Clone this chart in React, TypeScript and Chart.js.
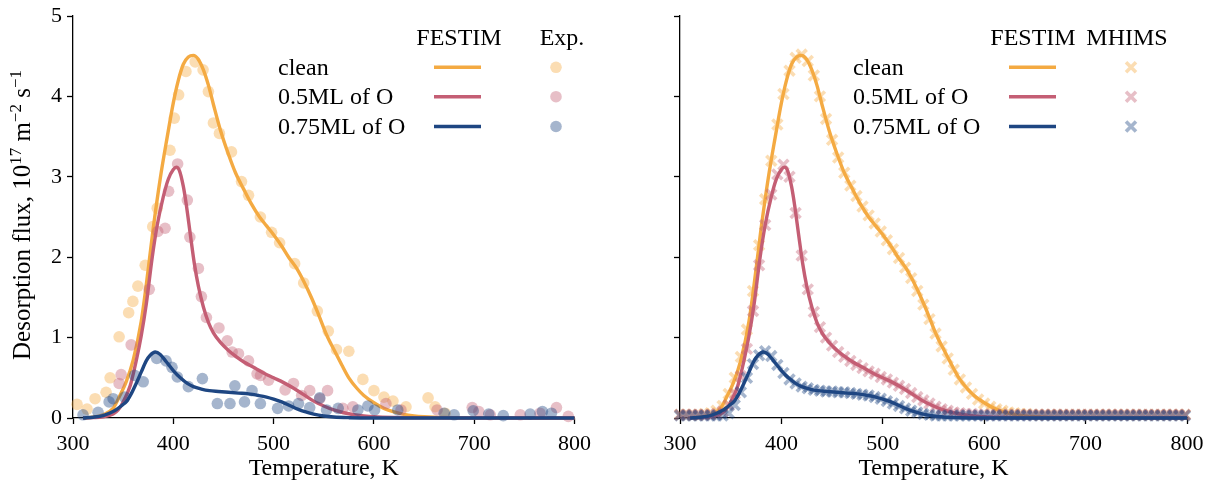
import React, { useEffect, useRef } from 'react';
import { Chart, registerables } from 'chart.js';

Chart.register(...registerables);

const SERIF = '"Liberation Serif", "Times New Roman", serif';

// ---------------- data ----------------
const caseLabels = ['clean', '0.5ML of O', '0.75ML of O'];
const xAxisLabel = 'Temperature, K';
const xTickValues = [300, 400, 500, 600, 700, 800];
const yTickValues = [0, 1, 2, 3, 4, 5];

// FESTIM simulation curves
const festimCleanT = [310, 320, 330, 340, 346, 353, 360, 368, 375, 380, 387, 394, 400, 405, 410, 415, 420, 425, 430, 435, 440, 447, 455, 462, 470, 478, 486, 493, 500, 508, 515, 523, 530, 538, 545, 553, 561, 568, 575, 583, 590, 600, 610, 620, 630, 640, 650, 660, 680, 700, 750, 800];
const festimCleanV = [0.0, 0.01, 0.04, 0.12, 0.26, 0.45, 0.72, 1.2, 1.85, 2.36, 2.98, 3.5, 3.92, 4.2, 4.4, 4.49, 4.51, 4.46, 4.33, 4.14, 3.9, 3.58, 3.28, 3.05, 2.85, 2.66, 2.5, 2.39, 2.28, 2.14, 2.0, 1.86, 1.7, 1.49, 1.28, 1.03, 0.83, 0.66, 0.5, 0.37, 0.28, 0.19, 0.12, 0.075, 0.045, 0.027, 0.016, 0.009, 0.003, 0.001, 0, 0];

const festimHalfT = [310, 320, 330, 340, 345, 350, 357, 363, 368, 373, 379, 384, 390, 395, 400, 403, 406, 410, 413, 417, 421, 425, 430, 435, 440, 447, 455, 462, 470, 480, 490, 500, 510, 520, 530, 540, 550, 560, 570, 580, 590, 600, 620, 650, 700, 800];
const festimHalfV = [0, 0.005, 0.015, 0.05, 0.1, 0.2, 0.4, 0.71, 1.02, 1.41, 2.0, 2.4, 2.75, 2.97, 3.09, 3.12, 3.08, 2.88, 2.65, 2.28, 1.92, 1.64, 1.38, 1.19, 1.06, 0.94, 0.84, 0.77, 0.7, 0.63, 0.56, 0.5, 0.44, 0.37, 0.29, 0.21, 0.15, 0.1, 0.065, 0.04, 0.025, 0.015, 0.006, 0.001, 0, 0];

const festimThreeQT = [310, 320, 330, 340, 345, 350, 353, 358, 363, 368, 373, 377, 382, 387, 393, 400, 407, 414, 420, 428, 436, 445, 455, 465, 475, 485, 493, 500, 508, 516, 524, 532, 540, 550, 560, 575, 600, 800];
const festimThreeQV = [0, 0.01, 0.03, 0.08, 0.12, 0.17, 0.2, 0.3, 0.43, 0.57, 0.71, 0.78, 0.82, 0.79, 0.7, 0.59, 0.5, 0.43, 0.39, 0.36, 0.34, 0.33, 0.32, 0.31, 0.3, 0.28, 0.26, 0.235, 0.2, 0.155, 0.11, 0.075, 0.048, 0.025, 0.012, 0.004, 0, 0];

// Experimental points
const expCleanT = [304, 314, 322, 333, 337, 346, 355.5, 359.7, 364.7, 372, 379.5, 384, 396.7, 401, 405.3, 412.6, 421.8, 429.7, 435, 440, 446, 458, 468, 475, 486.8, 498, 506, 521, 530, 543.6, 554.5, 562.7, 575, 589, 600, 610, 619, 632, 654, 661, 671];
const expCleanV = [0.17, 0.11, 0.24, 0.32, 0.5, 1.01, 1.31, 1.45, 1.64, 1.9, 2.38, 2.61, 3.33, 3.73, 4.02, 4.31, 4.43, 4.33, 4.06, 3.67, 3.54, 3.31, 2.94, 2.77, 2.5, 2.31, 2.18, 1.92, 1.68, 1.33, 1.08, 0.85, 0.83, 0.48, 0.34, 0.26, 0.21, 0.14, 0.25, 0.14, 0.06];

const expHalfT = [346, 348, 358, 376, 384.5, 391.8, 395.3, 404.3, 414, 416.5, 425, 428, 433, 445.5, 453.8, 458.7, 465, 475, 483.5, 487, 495, 511.5, 519.8, 528, 536, 546, 553.8, 569, 579, 612, 627, 663, 698, 704.6, 716, 746, 765.6, 782, 793.8];
const expHalfV = [0.43, 0.54, 0.91, 1.6, 2.32, 2.36, 2.82, 3.16, 2.71, 2.25, 1.86, 1.51, 1.25, 1.12, 0.96, 0.82, 0.8, 0.71, 0.55, 0.53, 0.47, 0.35, 0.43, 0.28, 0.34, 0.24, 0.34, 0.12, 0.14, 0.18, 0.1, 0.1, 0.13, 0.08, 0.04, 0.04, 0.06, 0.13, 0.02];

const expThreeQT = [310, 325, 336, 340, 351.5, 361.4, 370, 383.5, 392.8, 398.7, 404, 415, 429, 443.9, 456.5, 461.4, 471, 478.5, 486.8, 504, 515, 524.8, 536, 546, 552.8, 564.4, 584, 594, 600.7, 623.8, 670, 680, 699, 714.5, 729, 755.8, 768, 777];
const expThreeQV = [0.04, 0.07, 0.2, 0.24, 0.26, 0.53, 0.45, 0.74, 0.71, 0.63, 0.51, 0.39, 0.49, 0.18, 0.18, 0.4, 0.2, 0.34, 0.18, 0.12, 0.15, 0.18, 0.13, 0.25, 0.1, 0.12, 0.1, 0.15, 0.1, 0.1, 0.06, 0.04, 0.09, 0.05, 0.03, 0.05, 0.08, 0.06];

// MHIMS simulation points
const mhimsT = [300, 306, 312, 318, 324, 330, 336, 342, 348, 354, 360, 366, 372, 378, 384, 390, 396, 402, 408, 414, 420, 426, 432, 438, 444, 450, 456, 462, 468, 474, 480, 486, 492, 498, 504, 510, 516, 522, 528, 534, 540, 546, 552, 558, 564, 570, 576, 582, 588, 594, 600, 606, 612, 618, 624, 630, 636, 642, 648, 654, 660, 666, 672, 678, 684, 690, 696, 702, 708, 714, 720, 726, 732, 738, 744, 750, 756, 762, 768, 774, 780, 786, 792, 798];
const mhimsCleanV = [0.04, 0.04, 0.04, 0.04, 0.05, 0.06, 0.09, 0.15, 0.3, 0.5,
  0.76, 1.1, 1.58, 2.15, 2.72, 3.2, 3.65, 4.03, 4.32, 4.48,
  4.52, 4.44, 4.26, 4.0, 3.72, 3.46, 3.24, 3.05, 2.89, 2.76,
  2.63, 2.52, 2.42, 2.32, 2.21, 2.1, 1.99, 1.87, 1.74, 1.58,
  1.41, 1.23, 1.05, 0.89, 0.74, 0.6, 0.48, 0.38, 0.3, 0.23,
  0.18, 0.14, 0.11, 0.09, 0.07, 0.06, 0.05, 0.05, 0.04, 0.04,
  0.04, 0.04, 0.04, 0.04, 0.04, 0.04, 0.04, 0.04, 0.04, 0.04,
  0.04, 0.04, 0.04, 0.04, 0.04, 0.04, 0.04, 0.04, 0.04, 0.04,
  0.04, 0.04, 0.04, 0.04];
const mhimsHalfV = [0.04, 0.04, 0.04, 0.04, 0.04, 0.04, 0.05, 0.08, 0.16, 0.3,
  0.52, 0.86, 1.33, 1.9, 2.4, 2.78, 3.03, 3.15, 3.0, 2.55,
  2.02, 1.6, 1.32, 1.13, 1.0, 0.9, 0.82, 0.76, 0.71, 0.66,
  0.62, 0.58, 0.55, 0.51, 0.48, 0.44, 0.4, 0.36, 0.31, 0.26,
  0.22, 0.18, 0.14, 0.11, 0.09, 0.07, 0.06, 0.05, 0.05, 0.04,
  0.04, 0.04, 0.04, 0.04, 0.04, 0.04, 0.04, 0.04, 0.04, 0.04,
  0.04, 0.04, 0.04, 0.04, 0.04, 0.04, 0.04, 0.04, 0.04, 0.04,
  0.04, 0.04, 0.04, 0.04, 0.04, 0.04, 0.04, 0.04, 0.04, 0.04,
  0.04, 0.04, 0.04, 0.04];
const mhimsThreeQV = [0.03, 0.03, 0.03, 0.03, 0.03, 0.03, 0.03, 0.03, 0.06, 0.16,
  0.32, 0.5, 0.67, 0.78, 0.83, 0.77, 0.66, 0.56, 0.48, 0.43,
  0.39, 0.37, 0.35, 0.34, 0.33, 0.33, 0.32, 0.32, 0.31, 0.3,
  0.29, 0.28, 0.26, 0.24, 0.21, 0.18, 0.15, 0.12, 0.09, 0.07,
  0.05, 0.04, 0.03, 0.03, 0.03, 0.03, 0.03, 0.03, 0.03, 0.03,
  0.03, 0.03, 0.03, 0.03, 0.03, 0.03, 0.03, 0.03, 0.03, 0.03,
  0.03, 0.03, 0.03, 0.03, 0.03, 0.03, 0.03, 0.03, 0.03, 0.03,
  0.03, 0.03, 0.03, 0.03, 0.03, 0.03, 0.03, 0.03, 0.03, 0.03,
  0.03, 0.03, 0.03, 0.03];

// ---------------- styles ----------------
const lineColors = ['rgb(244,170,66)', 'rgb(196,94,116)', 'rgb(30,70,130)'];
const markerColors = ['rgba(244,170,66,0.4)', 'rgba(196,94,116,0.4)', 'rgba(30,70,130,0.4)'];

const festimT = [festimCleanT, festimHalfT, festimThreeQT];
const festimV = [festimCleanV, festimHalfV, festimThreeQV];
const expT = [expCleanT, expHalfT, expThreeQT];
const expV = [expCleanV, expHalfV, expThreeQV];
const mhimsV = [mhimsCleanV, mhimsHalfV, mhimsThreeQV];

const pts = (xs: number[], ys: number[]) => xs.map((x, i) => ({ x, y: ys[i] }));

function legendPlugin(cfg: any) {
  return {
    id: 'tableLegend',
    afterDatasetsDraw(chart: any) {
      const ctx = chart.ctx;
      ctx.save();
      ctx.font = `24px ${SERIF}`;
      ctx.fillStyle = '#000';
      ctx.textBaseline = 'middle';
      ctx.textAlign = 'center';
      ctx.fillText(cfg.head1, cfg.head1X, cfg.headY);
      ctx.fillText(cfg.head2, cfg.head2X, cfg.headY);
      ctx.textAlign = 'left';
      caseLabels.forEach((lab, i) => {
        const ty = cfg.textY[i];
        const my = cfg.markY[i];
        ctx.fillStyle = '#000';
        ctx.fillText(lab, cfg.labelX, ty);
        ctx.strokeStyle = lineColors[i];
        ctx.lineWidth = 3.4;
        ctx.lineCap = 'butt';
        ctx.beginPath();
        ctx.moveTo(cfg.lineX0, my);
        ctx.lineTo(cfg.lineX1, my);
        ctx.stroke();
        if (cfg.marker === 'circle') {
          ctx.fillStyle = markerColors[i];
          ctx.beginPath();
          ctx.arc(cfg.markX, my, 5.8, 0, Math.PI * 2);
          ctx.fill();
        } else {
          const d = 5;
          ctx.strokeStyle = markerColors[i];
          ctx.lineWidth = 3.6;
          ctx.beginPath();
          ctx.moveTo(cfg.markX - d, my - d);
          ctx.lineTo(cfg.markX + d, my + d);
          ctx.moveTo(cfg.markX - d, my + d);
          ctx.lineTo(cfg.markX + d, my - d);
          ctx.stroke();
        }
      });
      ctx.restore();
    },
  };
}

const yTitlePlugin = {
  id: 'yTitle',
  afterDraw(chart: any) {
    const ctx = chart.ctx;
    const segs: [string, boolean][] = [
      ['Desorption flux, 10', false],
      ['17', true],
      [' m', false],
      ['\u22122', true],
      [' s', false],
      ['\u22121', true],
    ];
    const mainFont = `25px ${SERIF}`;
    const supFont = `17px ${SERIF}`;
    let total = 0;
    const widths = segs.map(([t, sup]) => {
      ctx.font = sup ? supFont : mainFont;
      const w = ctx.measureText(t).width;
      total += w;
      return w;
    });
    ctx.save();
    ctx.translate(30, 215);
    ctx.rotate(-Math.PI / 2);
    ctx.fillStyle = '#000';
    ctx.textBaseline = 'alphabetic';
    ctx.textAlign = 'left';
    let x = -total / 2;
    segs.forEach(([t, sup], i) => {
      ctx.font = sup ? supFont : mainFont;
      ctx.fillText(t, x, sup ? -9 : 0);
      x += widths[i];
    });
    ctx.restore();
  },
};

function makeConfig(kind: 'exp' | 'mhims') {
  const datasets: any[] = [];
  for (let i = 0; i < 3; i++) {
    if (kind === 'exp') {
      datasets.push({
        data: pts(expT[i], expV[i]),
        showLine: false,
        pointStyle: 'circle',
        pointRadius: 5.8,
        pointBorderWidth: 0,
        pointBackgroundColor: markerColors[i],
        pointBorderColor: markerColors[i],
        clip: false,
        order: 10 - 2 * i,
      });
    } else {
      datasets.push({
        data: pts(mhimsT, mhimsV[i]),
        showLine: false,
        pointStyle: 'crossRot',
        pointRadius: 7,
        pointBorderWidth: 3.6,
        pointBackgroundColor: markerColors[i],
        pointBorderColor: markerColors[i],
        clip: false,
        order: 10 - 2 * i,
      });
    }
    datasets.push({
      data: pts(festimT[i], festimV[i]),
      showLine: true,
      pointRadius: 0,
      borderColor: lineColors[i],
      borderWidth: 3.4,
      cubicInterpolationMode: 'monotone',
      fill: false,
      clip: false,
      order: 9 - 2 * i,
    });
  }

  const isLeft = kind === 'exp';
  const legendCfg = isLeft
    ? {
        head1: 'FESTIM', head2: 'Exp.', head1X: 459, head2X: 562, headY: 38.5,
        labelX: 278, textY: [69, 98, 127.5], markY: [67.3, 96.7, 126.5],
        lineX0: 434, lineX1: 481, markX: 556, marker: 'circle',
      }
    : {
        head1: 'FESTIM', head2: 'MHIMS', head1X: 433, head2X: 527, headY: 38.5,
        labelX: 253, textY: [69, 98, 127.5], markY: [67.3, 96.7, 126.5],
        lineX0: 409, lineX1: 456, markX: 531, marker: 'cross',
      };

  return {
    type: 'scatter',
    data: { datasets },
    options: {
      responsive: false,
      animation: false,
      events: [],
      layout: { padding: { left: 0, right: isLeft ? 22 : 28, top: 12, bottom: 0 } },
      plugins: { legend: { display: false }, tooltip: { enabled: false } },
      scales: {
        x: {
          type: 'linear',
          min: 300,
          max: 800,
          afterBuildTicks: (s: any) => {
            s.ticks = xTickValues.map((v) => ({ value: v }));
          },
          grid: { display: true, drawOnChartArea: false, drawTicks: true, tickLength: 6, tickWidth: 1.3, tickColor: '#000' },
          border: { display: true, color: '#000', width: 1.3 },
          ticks: {
            color: '#000',
            font: { family: SERIF, size: 22, lineHeight: 1 },
            padding: 9,
            maxRotation: 0,
            autoSkip: false,
            callback: (v: any) => String(v),
          },
          title: {
            display: true,
            text: xAxisLabel,
            color: '#000',
            font: { family: SERIF, size: 24, lineHeight: 1 },
            padding: { top: 0, bottom: 7 },
          },
          afterFit: (s: any) => {
            s.height = 70;
          },
        },
        y: {
          type: 'linear',
          min: 0,
          max: 5,
          afterBuildTicks: (s: any) => {
            s.ticks = yTickValues.map((v) => ({ value: v }));
          },
          grid: { display: true, drawOnChartArea: false, drawTicks: true, tickLength: 6, tickWidth: 1.3, tickColor: '#000' },
          border: { display: true, color: '#000', width: 1.3 },
          ticks: {
            color: '#000',
            font: { family: SERIF, size: 22, lineHeight: 1 },
            padding: 5,
            autoSkip: false,
            callback: (v: any) => (isLeft ? String(v) : ''),
          },
          afterFit: (s: any) => {
            s.width = isLeft ? 73 : 80;
          },
        },
      },
    },
    plugins: isLeft ? [legendPlugin(legendCfg), yTitlePlugin] : [legendPlugin(legendCfg)],
  };
}

export default function App() {
  const leftRef = useRef<HTMLCanvasElement>(null);
  const rightRef = useRef<HTMLCanvasElement>(null);

  useEffect(() => {
    const c1 = new Chart(leftRef.current as HTMLCanvasElement, makeConfig('exp') as any);
    const c2 = new Chart(rightRef.current as HTMLCanvasElement, makeConfig('mhims') as any);
    return () => {
      c1.destroy();
      c2.destroy();
    };
  }, []);

  return (
    <div style={{ position: 'absolute', left: 0, top: 0, width: 1215, height: 488, background: '#fff', overflow: 'hidden' }}>
      <canvas ref={leftRef} width={600} height={488} style={{ position: 'absolute', left: 0, top: 0, width: 600, height: 488 }} />
      <canvas ref={rightRef} width={615} height={488} style={{ position: 'absolute', left: 600, top: 0, width: 615, height: 488 }} />
    </div>
  );
}
